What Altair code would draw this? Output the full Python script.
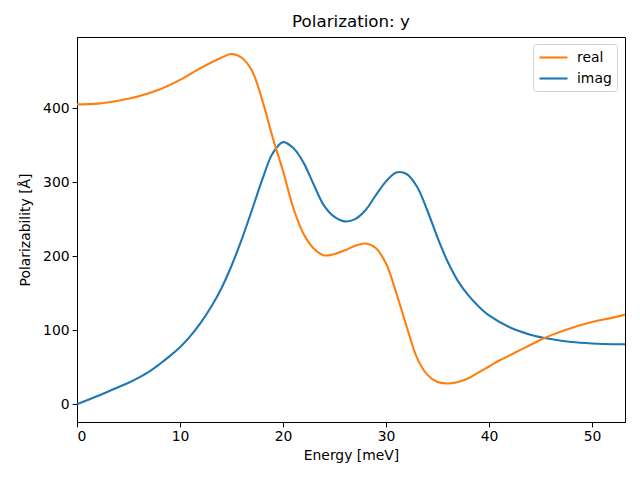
import altair as alt
import pandas as pd

energy_real = [0, 2, 4, 6, 8, 10, 12, 14, 15, 16, 17, 18, 19, 20, 21, 22, 23, 24, 25, 26, 27, 28, 29, 30, 31, 32, 33, 34, 35, 36, 37, 38, 39, 40, 41, 42, 43, 44, 45, 46, 48, 50, 52, 53.2]
real_vals = [405, 406, 410, 416, 425, 438, 454, 468, 473, 468, 450, 410, 360, 315, 265, 230, 210, 201, 203, 208, 214, 217, 211, 190, 150, 105, 63, 40, 30, 28, 30, 35, 43, 51, 59, 66, 73, 80, 87, 93, 103, 111, 117, 121]

energy_imag = [0, 2, 4, 5, 6, 7, 8, 9, 10, 11, 12, 13, 14, 15, 16, 17, 18, 19, 20, 21, 22, 23, 24, 25, 26, 27, 28, 29, 30, 31, 32, 33, 34, 35, 36, 37, 38, 39, 40, 42, 44, 46, 48, 50, 52, 53.2]
imag_vals = [0, 11, 23, 29, 36, 44, 54, 65, 77, 92, 110, 131, 156, 187, 223, 263, 304, 339, 354, 346, 326, 296, 268, 253, 247, 250, 262, 282, 301, 313, 311, 294, 262, 225, 192, 166, 147, 132, 120, 104, 94, 88, 84, 82, 81, 81]

x_ticks = [0, 10, 20, 30, 40, 50]
y_ticks = [0, 100, 200, 300, 400]

df = pd.concat([
    pd.DataFrame({"energy": energy_imag, "value": imag_vals, "series": "imag"}),
    pd.DataFrame({"energy": energy_real, "value": real_vals, "series": "real"}),
])

font = "DejaVu Sans"

chart = alt.Chart(df).mark_line(strokeWidth=2.1, interpolate="catmull-rom").encode(
    x=alt.X("energy:Q", title="Energy [meV]",
            scale=alt.Scale(domain=[0, 53.2], nice=False, zero=False),
            axis=alt.Axis(values=x_ticks, grid=False, format="d")),
    y=alt.Y("value:Q", title="Polarizability [Å]",
            scale=alt.Scale(domain=[-24, 496], nice=False, zero=False),
            axis=alt.Axis(values=y_ticks, grid=False, format="d")),
    color=alt.Color("series:N",
                    scale=alt.Scale(domain=["real", "imag"], range=["#ff7f0e", "#1f77b4"]),
                    legend=alt.Legend(title=None, orient="none", legendX=456, legendY=7,
                                      symbolType="M-2,0L2,0", symbolSize=196, symbolStrokeWidth=2.1,
                                      symbolOffset=7,
                                      labelFont=font, labelFontSize=13.9, labelColor="black",
                                      strokeColor="#d0d0d0", fillColor="white", cornerRadius=3,
                                      padding=5, rowPadding=5, labelOffset=15)),
).properties(
    width=548, height=385,
    title=alt.TitleParams("Polarization: y", font=font, fontSize=16.7, fontWeight="normal",
                          color="black", anchor="middle", offset=6),
    autosize=alt.AutoSizeParams(type="none"),
    padding={"left": 69, "top": 29, "right": 7, "bottom": 50},
).configure_view(
    stroke="black", strokeWidth=1
).configure_axis(
    labelFont=font, titleFont=font, labelFontSize=13.9, titleFontSize=13.9,
    labelColor="black", titleColor="black", titleFontWeight="normal",
    domainColor="black", tickColor="black", tickSize=4.9, labelPadding=3,
    domain=True,
).configure_axisX(
    titlePadding=5
).configure_axisY(
    titlePadding=10
)

chart.save("out.html", embed_options={"renderer": "svg", "actions": False})
